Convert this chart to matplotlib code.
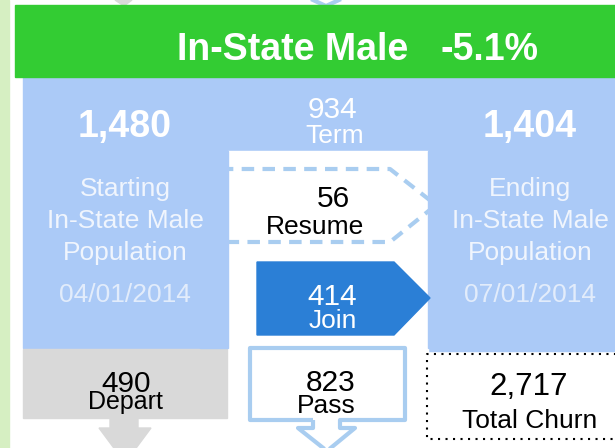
import matplotlib
matplotlib.use("Agg")
import matplotlib.pyplot as plt
from matplotlib.patches import Rectangle, Polygon

plt.rcParams['font.family'] = ['Liberation Sans', 'DejaVu Sans']

# Churn figures for one group, one quarter
group = "In-State Male"
pct_change = -5.1
start_date = "04/01/2014"
end_date = "07/01/2014"
start_pop = 1480
end_pop = 1404
flow_names = ["Term", "Resume", "Join", "Depart", "Pass"]
flow_counts = [934, 56, 414, 490, 823]
total_churn = 2717

GREEN = '#33cc33'
BLUE = '#abcaf7'
MID_BLUE = '#a9cdf0'
DARK_BLUE = '#2b7fd6'
GREY = '#d9d9d9'

fig = plt.figure(figsize=(6.15, 4.48), dpi=100)
ax = fig.add_axes([0, 0, 1, 1])
ax.set_xlim(0, 615)
ax.set_ylim(448, 0)
ax.axis('off')

# side strip and title banner
ax.add_patch(Rectangle((0, 0), 9, 448, color='#d6efc2', zorder=1))
ax.add_patch(Rectangle((15, 5), 610, 72, color=GREEN, zorder=5))
ax.text(293, 60, group, ha='center', va='baseline', fontsize=27,
        fontweight='bold', color='white', zorder=6)
ax.text(489, 60, f"{pct_change:.1f}%", ha='center', va='baseline', fontsize=27,
        fontweight='bold', color='white', zorder=6)

# arrow tips coming from the panel above
ax.add_patch(Polygon([(115, 0), (132, 0), (124, 6)], closed=True, color=GREY, zorder=2))
ax.plot([313, 326, 339], [0, 6, 0], color=MID_BLUE, lw=3, zorder=2)

# population columns
ax.add_patch(Rectangle((23, 77), 600, 271, color=BLUE, zorder=1))
ax.add_patch(Rectangle((428, 348), 200, 3, color=BLUE, zorder=1))
ax.add_patch(Rectangle((228, 151), 200, 300, color='white', zorder=1.5))

# resume: dashed chevron partly hidden behind the columns
ax.plot([200, 390, 436, 390, 200], [169, 169, 205, 242, 242], color=MID_BLUE,
        lw=3, linestyle=(0, (3, 2)), zorder=2, solid_capstyle='butt')
# redraw the column edges over the chevron ends
ax.add_patch(Rectangle((428, 151), 200, 197, color=BLUE, zorder=2.5))
ax.add_patch(Rectangle((200, 151), 28, 197, color=BLUE, zorder=2.5))

# join: solid chevron
ax.add_patch(Polygon([(257, 262), (394, 262), (430, 298), (394, 335), (257, 335)],
                     closed=True, color=DARK_BLUE, zorder=3))

# depart: grey box with arrow
ax.add_patch(Rectangle((23, 349), 204, 69, color=GREY, zorder=2))
ax.add_patch(Polygon([(110, 417), (138, 417), (138, 428), (151, 428), (125, 463),
                      (99, 428), (110, 428)], closed=True, color=GREY, zorder=2))

# pass: outlined box with arrow
ax.add_patch(Polygon([(313, 420), (250, 420), (250, 348), (405, 348), (405, 420),
                      (340, 420), (340, 428), (355, 428), (327, 451), (298, 428),
                      (313, 428)], closed=True, fill=False, edgecolor=MID_BLUE,
                     lw=3, joinstyle='round', zorder=3))

# total churn: dotted box
ax.plot([640, 427, 427, 640], [354, 354, 439, 439], color='black', lw=1.5,
        linestyle=(0, (1, 2.6)), zorder=3)

# column labels
ax.text(125, 137, f"{start_pop:,}", ha='center', va='baseline', fontsize=27,
        fontweight='bold', color='white', zorder=6)
ax.text(530, 137, f"{end_pop:,}", ha='center', va='baseline', fontsize=27,
        fontweight='bold', color='white', zorder=6)
label_color = '#f0f5fd'
for x, word, date in [(125, "Starting", start_date), (530, "Ending", end_date)]:
    for y, line in zip([196, 228, 260], [word, group, "Population"]):
        ax.text(x, y, line, ha='center', va='baseline', fontsize=19,
                color=label_color, zorder=6)
    ax.text(x, 302, date, ha='center', va='baseline', fontsize=19,
            color='#e2ecfb', zorder=6)

# flow labels: (number x, number baseline, label x, label baseline, colour, label size)
flow_pos = [
    (332, 118, 335, 143, 'white', 19),
    (333, 207, 315, 234, 'black', 19),
    (332, 305, 333, 328, 'white', 19),
    (126, 392, 125, 409, 'black', 18),
    (331, 391, 326, 413, 'black', 19),
]
for name, count, (nx, ny, lx, ly, c, ls) in zip(flow_names, flow_counts, flow_pos):
    ax.text(nx, ny, f"{count:,}", ha='center', va='baseline', fontsize=21.5,
            color=c, zorder=6)
    ax.text(lx, ly, name, ha='center', va='baseline', fontsize=ls,
            color=c, zorder=6)

ax.text(529, 395, f"{total_churn:,}", ha='center', va='baseline', fontsize=22.5,
        color='black', zorder=6)
ax.text(530, 428, "Total Churn", ha='center', va='baseline', fontsize=19,
        color='black', zorder=6)

fig.savefig('out.png', dpi=100, facecolor='white')
